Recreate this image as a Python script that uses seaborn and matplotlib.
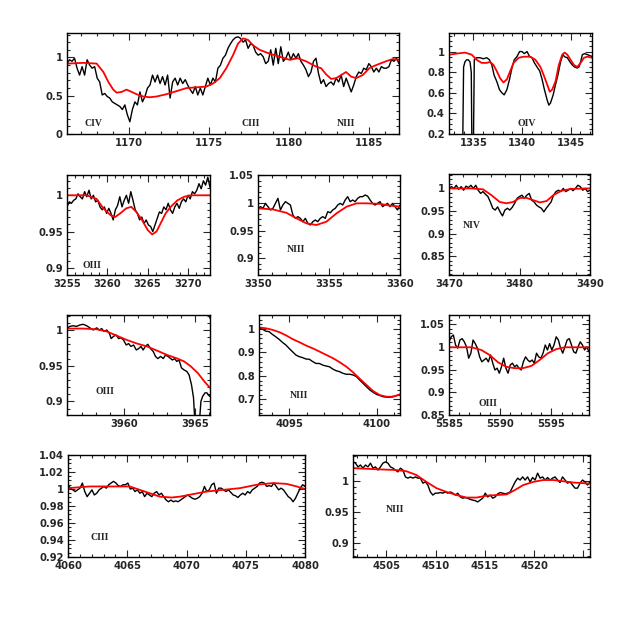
import numpy as np
import seaborn as sns
import matplotlib.pyplot as plt
from matplotlib.ticker import MultipleLocator, FuncFormatter

# ---- data (normalised flux) ----
# panel 1: CIV / CIII / NIII around 1175 A
p1_obs = [0.92, 0.97, 0.95, 0.99, 0.86, 0.77, 0.88, 0.77, 0.97, 0.90, 0.86, 0.88, 0.73, 0.68, 0.51, 0.53,
          0.49, 0.47, 0.42, 0.40, 0.38, 0.36, 0.32, 0.38, 0.25, 0.16, 0.32, 0.42, 0.38, 0.55, 0.42, 0.49,
          0.60, 0.64, 0.77, 0.68, 0.77, 0.66, 0.75, 0.64, 0.77, 0.47, 0.68, 0.73, 0.64, 0.73, 0.66, 0.71,
          0.64, 0.58, 0.53, 0.62, 0.51, 0.60, 0.51, 0.62, 0.73, 0.64, 0.73, 0.68, 0.86, 0.90, 0.99, 1.03,
          1.12, 1.18, 1.23, 1.26, 1.27, 1.25, 1.20, 1.23, 1.12, 1.18, 1.16, 1.07, 1.03, 1.05, 1.01, 0.92,
          0.95, 1.10, 0.90, 1.12, 0.92, 1.14, 0.95, 0.99, 1.07, 0.97, 1.05, 0.99, 1.05, 0.95, 0.90, 0.84,
          0.75, 0.81, 0.95, 0.99, 0.79, 0.66, 0.71, 0.62, 0.66, 0.68, 0.64, 0.73, 0.68, 0.77, 0.62, 0.73,
          0.64, 0.55, 0.64, 0.75, 0.81, 0.79, 0.86, 0.84, 0.92, 0.88, 0.81, 0.86, 0.81, 0.88, 0.86, 0.86,
          0.88, 0.97, 0.95, 0.99, 0.92]
p1_mod_x = [1166.13, 1167.13, 1167.96, 1168.38, 1168.69, 1169.0, 1169.21, 1169.52, 1169.83, 1170.15,
            1170.46, 1170.88, 1171.29, 1171.71, 1172.33, 1172.96, 1173.58, 1174.21, 1174.83, 1175.25,
            1175.67, 1176.08, 1176.5, 1176.81, 1177.13, 1177.44, 1177.75, 1178.17, 1178.79, 1179.42,
            1180.04, 1180.56, 1181.08, 1181.71, 1182.02, 1182.33, 1182.65, 1182.96, 1183.27, 1183.58,
            1183.9, 1184.21, 1184.63, 1185.04, 1185.46, 1186.08, 1186.5, 1186.88]
p1_mod = [0.92, 0.93, 0.92, 0.81, 0.68, 0.58, 0.54, 0.55, 0.58, 0.55, 0.52, 0.49, 0.48, 0.49, 0.52, 0.56,
          0.60, 0.61, 0.62, 0.66, 0.73, 0.86, 1.03, 1.18, 1.25, 1.23, 1.16, 1.10, 1.05, 1.01, 0.97, 0.99,
          0.95, 0.88, 0.86, 0.78, 0.72, 0.73, 0.77, 0.81, 0.75, 0.73, 0.77, 0.86, 0.90, 0.95, 0.98, 0.97]

# panel 2: OIV 1340
p2_obs_x = [1333.90, 1334.0, 1334.14, 1334.31, 1334.48, 1334.66, 1334.79, 1334.86, 1335.0, 1335.10, 1335.21,
            1335.34, 1335.69, 1336.03, 1336.38, 1336.66, 1336.9, 1337.14, 1337.41, 1337.69, 1337.93, 1338.17,
            1338.45, 1338.72, 1338.97, 1339.21, 1339.48, 1339.76, 1340.0, 1340.24, 1340.52, 1340.79, 1341.03,
            1341.28, 1341.55, 1341.83, 1342.07, 1342.31, 1342.59, 1342.76, 1342.93, 1343.21, 1343.45, 1343.69,
            1343.97, 1344.21, 1344.38, 1344.66, 1344.93, 1345.17, 1345.41, 1345.69, 1345.86, 1346.03, 1346.21,
            1346.45, 1346.72, 1347.0, 1347.24]
p2_obs = [0.0, 0.85, 0.90, 0.92, 0.92, 0.90, 0.80, 0.0, 0.0, 0.92, 0.93,
          0.94, 0.94, 0.93, 0.94, 0.92, 0.87, 0.77, 0.71, 0.63, 0.60, 0.58,
          0.63, 0.73, 0.84, 0.92, 0.95, 1.0, 1.0, 0.98, 1.0, 0.95, 0.94,
          0.89, 0.85, 0.81, 0.73, 0.63, 0.53, 0.48, 0.50, 0.58, 0.68, 0.77,
          0.90, 0.97, 0.95, 0.94, 0.90, 0.87, 0.85, 0.84, 0.85, 0.90, 0.97,
          0.98, 0.97, 0.96, 0.95]
p2_mod_x = [1332.52, 1333.28, 1334.14, 1334.83, 1335.34, 1335.86, 1336.38, 1336.72, 1337.07, 1337.41, 1337.76,
            1338.10, 1338.45, 1338.79, 1339.14, 1339.66, 1340.17, 1340.86, 1341.38, 1341.90, 1342.24, 1342.59,
            1342.86, 1343.10, 1343.45, 1343.79, 1344.14, 1344.38, 1344.66, 1345.0, 1345.34, 1345.69, 1346.03,
            1346.38, 1346.72, 1347.24]
p2_mod = [0.97, 0.98, 0.99, 0.97, 0.92, 0.89, 0.89, 0.90, 0.87, 0.81, 0.74, 0.70, 0.73, 0.81, 0.89, 0.94,
          0.95, 0.95, 0.92, 0.85, 0.77, 0.68, 0.61, 0.63, 0.71, 0.87, 0.97, 0.99, 0.97, 0.92, 0.87, 0.85,
          0.89, 0.94, 0.95, 0.94]

# panel 3: OIII 3265
p3_obs = [0.984, 0.991, 0.989, 0.993, 0.995, 1.002, 0.998, 0.995, 1.005, 0.998, 1.007, 0.995, 1.0, 0.991,
          0.993, 0.984, 0.980, 0.984, 0.975, 0.982, 0.975, 0.966, 0.980, 0.986, 0.998, 0.984, 0.993, 1.0,
          0.989, 1.005, 0.993, 0.980, 0.975, 0.966, 0.970, 0.961, 0.966, 0.959, 0.957, 0.950, 0.959, 0.968,
          0.977, 0.975, 0.984, 0.980, 0.989, 0.980, 0.975, 0.984, 0.989, 0.982, 0.991, 0.995, 0.991, 1.0,
          0.995, 1.005, 1.002, 1.007, 1.016, 1.009, 1.020, 1.014, 1.025, 1.011]
p3_mod_x = [3255.0, 3257.42, 3258.68, 3259.51, 3260.35, 3260.97, 3261.6, 3262.35, 3262.98, 3263.6, 3264.31,
            3265.02, 3265.57, 3266.11, 3266.61, 3267.24, 3267.87, 3268.7, 3269.54, 3270.37, 3272.75]
p3_mod = [1.0, 1.0, 0.995, 0.982, 0.973, 0.970, 0.975, 0.982, 0.984, 0.977, 0.966, 0.952, 0.946, 0.950,
          0.961, 0.975, 0.984, 0.993, 0.998, 1.0, 1.0]

# panel 4: NIII 3354
p4_obs = [0.990, 0.993, 0.990, 0.999, 0.993, 0.987, 0.990, 0.999, 1.008, 0.987, 0.996, 1.002, 0.999, 0.996,
          0.978, 0.972, 0.975, 0.972, 0.966, 0.972, 0.963, 0.960, 0.966, 0.969, 0.966, 0.972, 0.975, 0.972,
          0.984, 0.982, 0.987, 0.990, 0.996, 0.999, 0.996, 1.005, 1.011, 1.002, 1.005, 1.002, 1.008, 1.011,
          1.011, 1.014, 1.012, 1.005, 0.999, 0.996, 0.999, 1.002, 0.993, 0.996, 0.999, 0.993, 0.999, 0.993,
          0.987, 0.996]
p4_mod_x = [3350.0, 3351.06, 3352.0, 3352.71, 3353.41, 3354.12, 3354.82, 3355.53, 3356.24, 3356.94, 3357.65,
            3358.59, 3359.29, 3360.0]
p4_mod = [0.990, 0.988, 0.982, 0.972, 0.963, 0.960, 0.966, 0.981, 0.993, 0.999, 0.999, 0.998, 0.995, 0.993]

# panel 5: NIV 3480
p5_obs = [1.0, 1.004, 1.0, 1.007, 0.998, 1.004, 0.996, 1.005, 1.002, 1.007, 1.0, 1.007, 0.996, 0.989,
          0.993, 0.987, 0.982, 0.970, 0.956, 0.952, 0.959, 0.948, 0.939, 0.952, 0.956, 0.952, 0.958, 0.967,
          0.978, 0.982, 0.985, 0.978, 0.985, 0.989, 0.974, 0.970, 0.963, 0.959, 0.956, 0.948, 0.956, 0.963,
          0.970, 0.985, 0.993, 0.996, 0.993, 1.0, 0.993, 0.996, 1.0, 0.995, 1.0, 1.007, 1.004, 0.996,
          1.0, 0.993, 0.996]
p5_mod_x = [3470.0, 3473.18, 3474.83, 3476.02, 3477.2, 3478.15, 3479.1, 3480.05, 3480.99, 3481.94, 3482.89,
            3483.84, 3484.79, 3485.97, 3487.39, 3490.0]
p5_mod = [1.0, 1.0, 0.998, 0.985, 0.970, 0.967, 0.970, 0.979, 0.979, 0.974, 0.969, 0.972, 0.985, 0.995,
          0.999, 1.0]

# panel 6: OIII 3962
p6_obs_x = [3955.97, 3956.16, 3956.40, 3956.64, 3956.87, 3957.11, 3957.35, 3957.58, 3957.82, 3958.06,
            3958.25, 3958.41, 3958.58, 3958.77, 3958.96, 3959.08, 3959.24, 3959.43, 3959.60, 3959.76,
            3959.95, 3960.14, 3960.31, 3960.47, 3960.66, 3960.85, 3961.02, 3961.18, 3961.33, 3961.49,
            3961.66, 3961.85, 3962.04, 3962.20, 3962.37, 3962.56, 3962.75, 3962.91, 3963.08, 3963.27,
            3963.39, 3963.55, 3963.70, 3963.86, 3964.03, 3964.22, 3964.41, 3964.57, 3964.74, 3964.88,
            3964.98, 3965.12, 3965.29, 3965.40, 3965.52, 3965.69, 3965.83, 3965.92, 3966.04]
p6_obs = [1.002, 1.005, 1.006, 1.005, 1.007, 1.008, 1.006, 1.003, 1.0, 1.003,
          1.0, 1.002, 0.998, 1.0, 0.995, 0.988, 0.991, 0.993, 0.988, 0.989,
          0.986, 0.979, 0.981, 0.977, 0.979, 0.972, 0.974, 0.977, 0.972, 0.977,
          0.980, 0.974, 0.970, 0.963, 0.960, 0.963, 0.960, 0.965, 0.963, 0.960,
          0.958, 0.960, 0.956, 0.958, 0.947, 0.944, 0.942, 0.937, 0.923, 0.905,
          0.870, 0.860, 0.870, 0.900, 0.907, 0.912, 0.912, 0.909, 0.907]
p6_mod_x = [3955.97, 3957.11, 3958.06, 3958.77, 3959.48, 3960.19, 3960.9, 3961.61, 3962.32, 3963.03,
            3963.74, 3964.22, 3964.69, 3965.17, 3965.64, 3966.04]
p6_mod = [1.002, 1.002, 1.001, 0.998, 0.992, 0.986, 0.981, 0.977, 0.971, 0.965, 0.960, 0.956, 0.949,
          0.940, 0.928, 0.919]

# panel 7: NIII 4097
p7_obs = [1.003, 1.0, 0.991, 0.989, 0.977, 0.967, 0.956, 0.943, 0.932, 0.917, 0.903, 0.889, 0.882, 0.878,
          0.872, 0.871, 0.861, 0.853, 0.853, 0.846, 0.842, 0.839, 0.829, 0.822, 0.818, 0.811, 0.807, 0.807,
          0.804, 0.797, 0.782, 0.768, 0.754, 0.740, 0.730, 0.721, 0.716, 0.711, 0.709, 0.709, 0.711, 0.716,
          0.721]
p7_mod_x = [4093.28, 4093.70, 4094.08, 4094.47, 4094.85, 4095.23, 4095.61, 4095.99, 4096.37, 4096.76,
            4097.14, 4097.52, 4097.9, 4098.28, 4098.66, 4099.05, 4099.43, 4099.81, 4100.19, 4100.57,
            4100.86, 4101.15, 4101.34]
p7_mod = [1.007, 1.003, 0.996, 0.986, 0.972, 0.956, 0.943, 0.929, 0.917, 0.903, 0.889, 0.875, 0.858,
          0.839, 0.815, 0.787, 0.761, 0.735, 0.718, 0.711, 0.711, 0.716, 0.721]

# panel 8: OIII 5592
p8_obs = [1.011, 1.022, 1.026, 1.004, 0.997, 1.015, 1.018, 1.011, 1.0, 0.975, 0.986, 1.015, 1.007, 0.997,
          0.978, 0.967, 0.971, 0.975, 0.967, 0.982, 0.964, 0.949, 0.953, 0.942, 0.956, 0.975, 0.953, 0.942,
          0.960, 0.964, 0.956, 0.960, 0.953, 0.949, 0.967, 0.978, 0.971, 0.967, 0.971, 0.964, 0.986, 0.978,
          0.975, 0.986, 1.004, 0.993, 1.007, 0.993, 1.004, 1.022, 1.015, 0.997, 0.986, 1.0, 1.015, 1.018,
          1.004, 0.989, 0.986, 1.0, 1.011, 1.004, 0.993, 1.0, 0.989]
p8_mod_x = [5585.0, 5587.18, 5588.16, 5588.97, 5589.79, 5590.6, 5591.42, 5592.23, 5593.05, 5593.86,
            5594.67, 5595.49, 5596.3, 5598.68]
p8_mod = [0.999, 0.999, 0.993, 0.982, 0.966, 0.956, 0.953, 0.953, 0.958, 0.971, 0.986, 0.995, 0.999, 0.999]

# panel 9: CIII 4070
p9_obs = [1.005, 1.001, 0.999, 0.997, 0.999, 1.001, 1.007, 0.997, 0.991, 0.995, 0.999, 0.993, 0.995, 0.999,
          1.001, 1.003, 1.001, 1.005, 1.007, 1.009, 1.007, 1.004, 1.003, 1.005, 1.005, 1.007, 1.0, 1.001,
          0.997, 0.999, 0.995, 0.997, 0.991, 0.995, 0.993, 0.991, 0.995, 0.997, 0.993, 0.995, 0.991, 0.987,
          0.985, 0.987, 0.985, 0.986, 0.985, 0.987, 0.989, 0.991, 0.993, 0.991, 0.989, 0.988, 0.989, 0.991,
          0.995, 1.003, 0.997, 0.999, 1.005, 1.007, 0.995, 1.001, 1.001, 0.999, 0.997, 0.999, 0.996, 0.993,
          0.992, 0.990, 0.993, 0.995, 0.993, 0.997, 0.995, 0.999, 1.001, 1.003, 1.007, 1.008, 1.007, 1.003,
          1.004, 1.003, 1.007, 1.003, 0.999, 1.001, 0.999, 0.995, 0.991, 0.989, 0.985, 0.989, 0.995, 1.001,
          1.005, 1.003]
p9_mod_x = [4060.0, 4061.83, 4063.8, 4065.21, 4066.06, 4066.9, 4067.75, 4068.73, 4069.44, 4070.56, 4071.69,
            4073.1, 4074.51, 4075.92, 4077.32, 4078.45, 4079.3, 4080.0]
p9_mod = [1.001, 1.003, 1.003, 1.003, 0.999, 0.995, 0.991, 0.990, 0.991, 0.994, 0.997, 0.999, 1.001, 1.005,
          1.007, 1.006, 1.003, 1.0]

# panel 10: NIII 4514
p10_obs = [1.030, 1.028, 1.022, 1.025, 1.020, 1.025, 1.022, 1.028, 1.020, 1.022, 1.017, 1.022, 1.028, 1.030,
           1.028, 1.022, 1.020, 1.017, 1.014, 1.020, 1.017, 1.006, 1.004, 1.006, 1.004, 1.006, 1.004, 1.004,
           0.996, 0.998, 0.993, 0.982, 0.977, 0.980, 0.980, 0.981, 0.980, 0.982, 0.980, 0.982, 0.980, 0.977,
           0.980, 0.974, 0.972, 0.973, 0.972, 0.970, 0.969, 0.968, 0.966, 0.969, 0.972, 0.980, 0.974, 0.977,
           0.972, 0.974, 0.979, 0.981, 0.980, 0.979, 0.980, 0.982, 0.990, 0.998, 1.004, 1.001, 1.006, 1.001,
           1.006, 0.998, 1.005, 1.001, 1.012, 1.004, 1.006, 1.001, 1.005, 1.001, 1.004, 1.006, 1.001, 0.997,
           1.006, 1.001, 0.996, 0.998, 0.993, 0.988, 0.988, 0.996, 1.001, 0.998, 0.993, 0.998]
p10_mod_x = [4501.61, 4504.32, 4506.02, 4507.04, 4508.05, 4509.07, 4510.09, 4511.11, 4512.13, 4513.14,
             4514.16, 4515.18, 4516.2, 4517.22, 4518.06, 4518.91, 4519.93, 4520.95, 4521.97, 4522.98,
             4524.0, 4525.02, 4525.7]
p10_mod = [1.020, 1.018, 1.017, 1.015, 1.009, 0.998, 0.988, 0.982, 0.977, 0.973, 0.973, 0.976, 0.977,
           0.978, 0.985, 0.993, 0.998, 1.001, 1.001, 0.999, 0.997, 0.996, 0.995]

# ---- panel layout: pixel box (left, top, right, bottom), limits, ticks, labels ----
W = H = 623
panels = [
    dict(box=(67, 33, 399, 134), xlim=(1166.1, 1186.9), ylim=(0, 1.32), xt=(5, 1), yt=(0.5, 0.1),
         obs=(None, p1_obs), mod=(p1_mod_x, p1_mod),
         labels=[(93, 124, 'CIV'), (251, 124, 'CIII'), (346, 124, 'NIII')]),
    dict(box=(449, 33, 592, 134), xlim=(1332.5, 1347.2), ylim=(0.2, 1.18), xt=(5, 1), yt=(0.2, 0.05),
         obs=(p2_obs_x, p2_obs), mod=(p2_mod_x, p2_mod), labels=[(527, 123, 'OIV')]),
    dict(box=(67, 175, 210, 275), xlim=(3255, 3272.75), ylim=(0.89, 1.028), xt=(5, 1), yt=(0.05, 0.01),
         obs=(None, p3_obs), mod=(p3_mod_x, p3_mod), labels=[(92, 266, 'OIII')]),
    dict(box=(258, 175, 400, 275), xlim=(3350, 3360), ylim=(0.87, 1.05), xt=(5, 1), yt=(0.05, 0.01),
         obs=(None, p4_obs), mod=(p4_mod_x, p4_mod), labels=[(296, 250, 'NIII')]),
    dict(box=(449, 174, 590, 275), xlim=(3470, 3490), ylim=(0.808, 1.032), xt=(10, 2), yt=(0.05, 0.01),
         obs=(None, p5_obs), mod=(p5_mod_x, p5_mod), labels=[(472, 225, 'NIV')]),
    dict(box=(67, 315, 210, 415), xlim=(3955.97, 3966.04), ylim=(0.881, 1.021), xt=(5, 1), yt=(0.05, 0.01),
         obs=(p6_obs_x, p6_obs), mod=(p6_mod_x, p6_mod), labels=[(105, 391, 'OIII')]),
    dict(box=(259, 315, 400, 415), xlim=(4093.28, 4101.34), ylim=(0.633, 1.06), xt=(5, 1), yt=(0.1, 0.02),
         obs=(None, p7_obs), mod=(p7_mod_x, p7_mod), labels=[(299, 396, 'NIII')]),
    dict(box=(449, 315, 589, 415), xlim=(5585, 5598.68), ylim=(0.85, 1.07), xt=(5, 1), yt=(0.05, 0.01),
         obs=(None, p8_obs), mod=(p8_mod_x, p8_mod), labels=[(488, 403, 'OIII')]),
    dict(box=(68, 455, 305, 557), xlim=(4060, 4080), ylim=(0.92, 1.04), xt=(5, 1), yt=(0.02, 0.005),
         obs=(None, p9_obs), mod=(p9_mod_x, p9_mod), labels=[(100, 537, 'CIII')]),
    dict(box=(353, 455, 590, 557), xlim=(4501.6, 4525.7), ylim=(0.878, 1.041), xt=(5, 1), yt=(0.05, 0.01),
         obs=(None, p10_obs), mod=(p10_mod_x, p10_mod), labels=[(395, 510, 'NIII')], xmax_label=4520),
]

sns.set_style("ticks")
plt.rcParams['font.family'] = ['DejaVu Sans']
plt.rcParams['axes.linewidth'] = 1.0

fig = plt.figure(figsize=(W / 100, H / 100), dpi=100)
fig.patch.set_facecolor('white')


def xfmt(limit):
    # integer wavelength labels; drop labels crowding the right edge
    return FuncFormatter(lambda v, pos: '' if (limit is not None and v > limit) else f'{v:.0f}')


yfmt = FuncFormatter(lambda v, pos: f'{v:.3f}'.rstrip('0').rstrip('.'))

for p in panels:
    l, t, r, b = p['box']
    ax = fig.add_axes([l / W, 1 - b / H, (r - l) / W, (b - t) / H])
    ax.set_facecolor('white')

    ox, oy = p['obs']
    if ox is None:
        ox = np.linspace(p['xlim'][0], p['xlim'][1], len(oy))
    sns.lineplot(x=ox, y=oy, color='black', lw=1.0, sort=False, estimator=None, ax=ax)
    mx, my = p['mod']
    sns.lineplot(x=mx, y=my, color='red', lw=1.3, sort=False, estimator=None, ax=ax)

    ax.set_xlim(*p['xlim'])
    ax.set_ylim(*p['ylim'])
    ax.xaxis.set_major_locator(MultipleLocator(p['xt'][0]))
    ax.xaxis.set_minor_locator(MultipleLocator(p['xt'][1]))
    ax.yaxis.set_major_locator(MultipleLocator(p['yt'][0]))
    ax.yaxis.set_minor_locator(MultipleLocator(p['yt'][1]))
    ax.xaxis.set_major_formatter(xfmt(p.get('xmax_label')))
    ax.yaxis.set_major_formatter(yfmt)
    ax.tick_params(which='both', direction='in', top=True, right=True, labelsize=7.2, width=0.8, pad=3)
    ax.tick_params(which='major', length=5)
    ax.tick_params(which='minor', length=2.5)
    for lab in ax.get_xticklabels() + ax.get_yticklabels():
        lab.set_fontweight('bold')
    for s in ax.spines.values():
        s.set_linewidth(1.0)
        s.set_color('black')
    ax.set_xlabel('')
    ax.set_ylabel('')

    for lx, ly, txt in p['labels']:
        fig.text(lx / W, 1 - ly / H, txt, ha='center', va='center', fontsize=7,
                 family=['Liberation Serif', 'DejaVu Serif'], fontweight='bold')

fig.savefig('out.png', dpi=100, facecolor='white')
